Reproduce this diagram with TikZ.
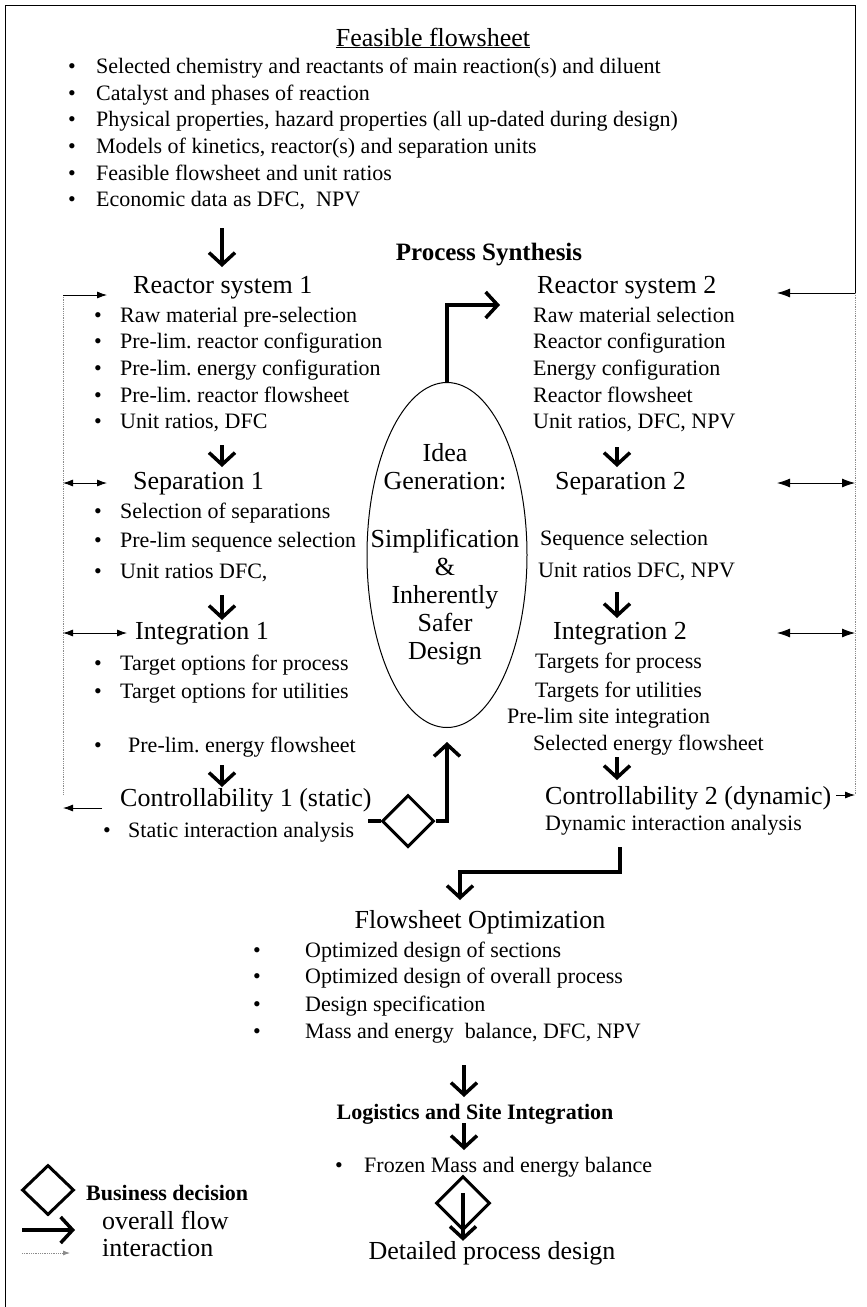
\documentclass[tikz,border=0pt]{standalone}
\usepackage{fontspec}
\setmainfont{Liberation Serif}
\usepackage{tikz}
\usetikzlibrary{shapes, arrows.meta, positioning, calc}
\frenchspacing
\newcommand{\bul}[2][26pt]{\makebox[#1][l]{\textbullet}#2}
\tikzset{
  >=Stealth,
  flowarrow/.style={-{Straight Barb[length=12pt, width=26pt]}, line width=3.5pt, black},
  flowline/.style={line width=3.5pt, black},
  interarrow/.style={-{Latex[length=10pt, width=7pt]}, line width=0.8pt, black},
  interboth/.style={{Latex[length=10pt, width=7pt]}-{Latex[length=10pt, width=7pt]}, line width=0.8pt, black},
  interarrowR/.style={-{Latex[length=13pt, width=9pt]}, line width=0.8pt, black},
  interbothR/.style={{Latex[length=13pt, width=9pt]}-{Latex[length=13pt, width=9pt]}, line width=0.8pt, black},
  interline/.style={line width=0.8pt, black!45, densely dotted},
  headtext/.style={anchor=west, inner sep=0pt, text height=18pt, text depth=6pt, font=\fontsize{26}{30}\selectfont},
  itemtext/.style={anchor=west, inner sep=0pt, text height=15pt, text depth=5pt, font=\fontsize{22}{26}\selectfont},
  boldtext/.style={inner sep=0pt, text height=15pt, text depth=5pt, font=\fontsize{22}{26}\selectfont\bfseries},
  decision/.style={draw, diamond, line width=3pt, inner sep=0pt, minimum width=52pt, minimum height=52pt}
}

\begin{document}
\begin{tikzpicture}[x=1pt, y=-1pt]
    \useasboundingbox (0,0) rectangle (867,1307);
    \draw[line width=0.8pt] (5,1307) -- (5,5) -- (855,5) -- (855,293);

    % feasible flowsheet
    \node (feas) [headtext, anchor=center] at (433,40) {\underline{Feasible flowsheet}};
    \node (f1) [itemtext] at (68,68) {\bul[28pt]{Selected chemistry and reactants of main reaction(s) and diluent}};
    \node (f2) [itemtext] at (68,95) {\bul[28pt]{Catalyst and phases of reaction}};
    \node (f3) [itemtext] at (68,121) {\bul[28pt]{Physical properties, hazard properties (all up-dated during design)}};
    \node (f4) [itemtext] at (68,148) {\bul[28pt]{Models of kinetics, reactor(s) and separation units}};
    \node (f5) [itemtext] at (68,175) {\bul[28pt]{Feasible flowsheet and unit ratios}};
    \node (f6) [itemtext] at (68,201) {\bul[28pt]{Economic data as DFC,\ \ NPV}};
    \node (synth) [boldtext, font=\fontsize{25}{28}\selectfont\bfseries] at (489,255) {Process Synthesis};

    % synthesis 1
    \node (rs1) [headtext] at (133,287) {Reactor system 1};
    \node (r1a) [itemtext] at (94,317) {\bul{Raw material pre-selection}};
    \node (r1b) [itemtext] at (94,343) {\bul{Pre-lim. reactor configuration}};
    \node (r1c) [itemtext] at (94,370) {\bul{Pre-lim. energy configuration}};
    \node (r1d) [itemtext] at (94,397) {\bul{Pre-lim. reactor flowsheet}};
    \node (r1e) [itemtext] at (94,423) {\bul{Unit ratios, DFC}};
    \node (sep1) [headtext] at (133,483) {Separation 1};
    \node (s1a) [itemtext] at (94,513) {\bul{Selection of separations}};
    \node (s1b) [itemtext] at (94,542) {\bul{Pre-lim sequence selection}};
    \node (s1c) [itemtext] at (94,573) {\bul{Unit ratios DFC,}};
    \node (int1) [headtext] at (135,633) {Integration 1};
    \node (i1a) [itemtext] at (94,665) {\bul{Target options for process}};
    \node (i1b) [itemtext] at (94,693) {\bul{Target options for utilities}};
    \node (i1c) [itemtext] at (94,747) {\bul[34pt]{Pre-lim. energy flowsheet}};
    \node (con1) [headtext] at (120,800) {Controllability 1 (static)};
    \node (c1a) [itemtext] at (103,832) {\bul[25pt]{Static interaction analysis}};

    % synthesis 2
    \node (rs2) [headtext] at (537,287) {Reactor system 2};
    \node (r2a) [itemtext] at (533,317) {Raw material selection};
    \node (r2b) [itemtext] at (533,343) {Reactor configuration};
    \node (r2c) [itemtext] at (533,370) {Energy configuration};
    \node (r2d) [itemtext] at (533,397) {Reactor flowsheet};
    \node (r2e) [itemtext] at (533,423) {Unit ratios, DFC, NPV};
    \node (sep2) [headtext] at (555,483) {Separation 2};
    \node (s2a) [itemtext] at (540,540) {Sequence selection};
    \node (s2b) [itemtext] at (538,572) {Unit ratios DFC, NPV};
    \node (int2) [headtext] at (553,633) {Integration 2};
    \node (i2a) [itemtext] at (535,663) {Targets for process};
    \node (i2b) [itemtext] at (535,692) {Targets for utilities};
    \node (i2c) [itemtext] at (507,718) {Pre-lim site integration};
    \node (i2d) [itemtext] at (533,745) {Selected energy flowsheet};
    \node (con2) [headtext] at (545,798) {Controllability 2 (dynamic)};
    \node (c2a) [itemtext] at (545,825) {Dynamic interaction analysis};

    % idea generation
    \node (idea) [draw, ellipse, line width=1pt, minimum width=160pt, minimum height=345pt, inner sep=0pt] at (447,555) {};
    \node (ideatext) [align=center, inner sep=0pt, font=\fontsize{26}{28}\selectfont] at (445,554) {Idea\\Generation:\\[30pt]Simplification\\\&\\Inherently\\Safer\\Design};
    \node (dec1) [decision] at (408,821) {};
    \coordinate (c1end) at (368,821);
    \coordinate (ideain) at (447,742);
    \coordinate (rs2in) at (500,305);
    \draw[flowline] (c1end) -- (dec1.west);
    \draw[flowarrow] (dec1.east) -| (ideain);
    \draw[flowarrow] (idea.north) |- (rs2in);

    % overall flow, synthesis
    \coordinate (a1) at (222,228);
    \coordinate (a2) at (222,445);
    \coordinate (a3) at (222,595);
    \coordinate (a4) at (222,765);
    \coordinate (b1) at (617,447);
    \coordinate (b2) at (617,592);
    \coordinate (b3) at (617,757);
    \draw[flowarrow] (a1) -- ++(0,39);
    \draw[flowarrow] (a2) -- ++(0,22);
    \draw[flowarrow] (a3) -- ++(0,25);
    \draw[flowarrow] (a4) -- ++(0,22);
    \draw[flowarrow] (b1) -- ++(0,20);
    \draw[flowarrow] (b2) -- ++(0,26);
    \draw[flowarrow] (b3) -- ++(0,23);

    % interaction, left
    \coordinate (L1) at (63,295);
    \coordinate (L4) at (63,795);
    \draw[interline] (L1) -- (L4);
    \draw[interarrow] (L1) -- (107,295);
    \draw[interboth] (63,483) -- (107,483);
    \draw[interboth] (63,633) -- (127,633);
    \draw[interarrow] (102,808) -- (63,808);

    % interaction, right
    \coordinate (R1) at (855,293);
    \coordinate (R4) at (855,795);
    \draw[interline] (R1) -- (R4);
    \draw[interarrowR] (R1) -- (777,293);
    \draw[interbothR] (777,483) -- (855,483);
    \draw[interbothR] (777,633) -- (855,633);
    \draw[interarrow] (836,795) -- (R4);

    % flowsheet optimization
    \coordinate (dynout) at (620,847);
    \coordinate (optin) at (460,900);
    \draw[flowarrow] (dynout) -- ++(0,25) -| (optin);
    \node (opt) [headtext, anchor=center] at (480,922) {Flowsheet Optimization};
    \node (o1) [itemtext] at (253,952) {\bul[52pt]{Optimized design of sections}};
    \node (o2) [itemtext] at (253,978) {\bul[52pt]{Optimized design of overall process}};
    \node (o3) [itemtext] at (253,1006) {\bul[52pt]{Design specification}};
    \node (o4) [itemtext] at (253,1033) {\bul[52pt]{Mass and energy\ \ balance, DFC, NPV}};

    % logistics
    \coordinate (g1) at (464,1065);
    \coordinate (g2) at (464,1123);
    \node (logi) [boldtext] at (475,1114) {Logistics and Site Integration};
    \draw[flowarrow] (g1) -- ++(0,32);
    \draw[flowarrow] (g2) -- ++(0,27);
    \node (froz) [itemtext] at (335,1167) {\bul[29pt]{Frozen Mass and energy balance}};
    \node (dec2) [decision, minimum width=54pt, minimum height=54pt] at (463,1203) {};
    \node (detail) [headtext, anchor=center] at (492,1253) {Detailed process design};
    \coordinate (d2s) at (463,1193);
    \draw[flowarrow] (d2s) -- (d2s |- detail.north);

    % legend
    \node (legdec) [decision, minimum height=50pt] at (48,1190) {};
    \node (legdectext) [boldtext, anchor=west] at (86,1195) {Business decision};
    \coordinate (lf1) at (22,1230);
    \coordinate (lf2) at (75,1230);
    \draw[flowarrow] (lf1) -- (lf2);
    \node (legflow) [headtext] at (102,1223) {overall flow};
    \coordinate (li1) at (22,1253);
    \coordinate (li2) at (70,1253);
    \draw[interline, -{Latex[length=7pt, width=5pt]}] (li1) -- (li2);
    \node (leginter) [headtext] at (102,1250) {interaction};
\end{tikzpicture}
\end{document}
